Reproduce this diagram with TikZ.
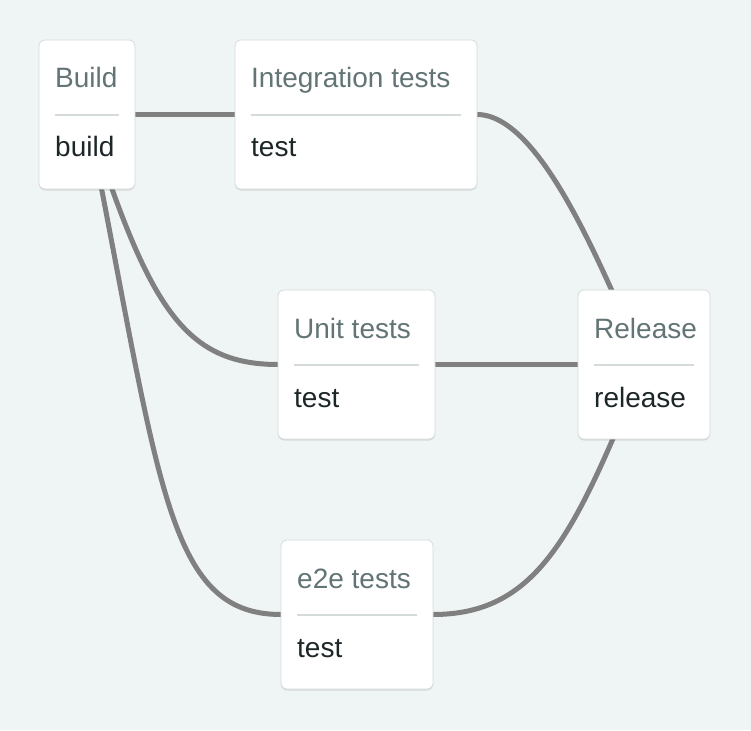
\documentclass[tikz,border=0pt]{standalone}
\usepackage{fontspec}
\setmainfont{Liberation Sans}
\usetikzlibrary{calc,shadows}
\definecolor{bgcol}{HTML}{EFF4F4}
\definecolor{edgecol}{HTML}{808080}
\definecolor{sepcol}{HTML}{D5DBDB}
\definecolor{bordercol}{HTML}{D6DCDC}
\definecolor{titlecol}{HTML}{627475}
\definecolor{bodycol}{HTML}{1D2728}
\pgfdeclarelayer{bglayer}
\pgfdeclarelayer{edgelayer}
\pgfsetlayers{bglayer,edgelayer,main}
\tikzset{
  stagebox/.style={draw=bordercol, line width=0.8pt, fill=white, rounded corners=6pt,
    minimum height=149pt, inner sep=0pt, outer sep=0pt,
    drop shadow={shadow xshift=0pt, shadow yshift=-1.5pt, opacity=0.10, fill=black}},
  titletext/.style={text=titlecol, inner sep=0pt, font=\fontsize{28}{30}\selectfont},
  bodytext/.style={text=bodycol, inner sep=0pt, font=\fontsize{28}{30}\selectfont},
  sepline/.style={draw=sepcol, line width=1.6pt},
  edge/.style={draw=edgecol, line width=5pt}
}
\newcommand{\stagenode}[6]{%
  \node[stagebox, minimum width=#4pt, anchor=north west] (#1) at (#2,#3) {};
  \node[titletext, anchor=base west] (#1-t) at ($(#1.north west)+(16,48)$) {#5};
  \coordinate (#1-sl) at ($(#1.north west)+(16,75)$);
  \coordinate (#1-sr) at ($(#1.north east)+(-16,75)$);
  \draw[sepline] (#1-sl) -- (#1-sr);
  \node[bodytext, anchor=base west] (#1-b) at ($(#1.north west)+(16,117)$) {#6};
}
\begin{document}
\begin{tikzpicture}[x=1pt,y=-1pt]
\begin{pgfonlayer}{bglayer}
\fill[bgcol] (0,0) rectangle (751,730);
\end{pgfonlayer}
\useasboundingbox (0,0) rectangle (751,730);
\stagenode{build}{39}{40}{96}{Build}{build}
\stagenode{integ}{235}{40}{242}{Integration tests}{test}
\stagenode{unit}{278}{290}{157}{Unit tests}{test}
\stagenode{release}{578}{290}{132}{Release}{release}
\stagenode{e2e}{281}{540}{152}{e2e tests}{test}
\begin{pgfonlayer}{edgelayer}
\draw[edge] (build.east) -- (integ.west);
\draw[edge] (unit.east) -- (release.west);
\draw[edge] (integ.east) .. controls (540,114.5) and (601,265) .. (release.center);
\draw[edge] (build.center) .. controls (148,305) and (183,364.5) .. (unit.west);
\draw[edge] (build.center) .. controls (160,480) and (165,614.5) .. (e2e.west);
\draw[edge] (e2e.east) .. controls (540,614.5) and (576,530) .. (release.center);
\end{pgfonlayer}
\end{tikzpicture}
\end{document}
